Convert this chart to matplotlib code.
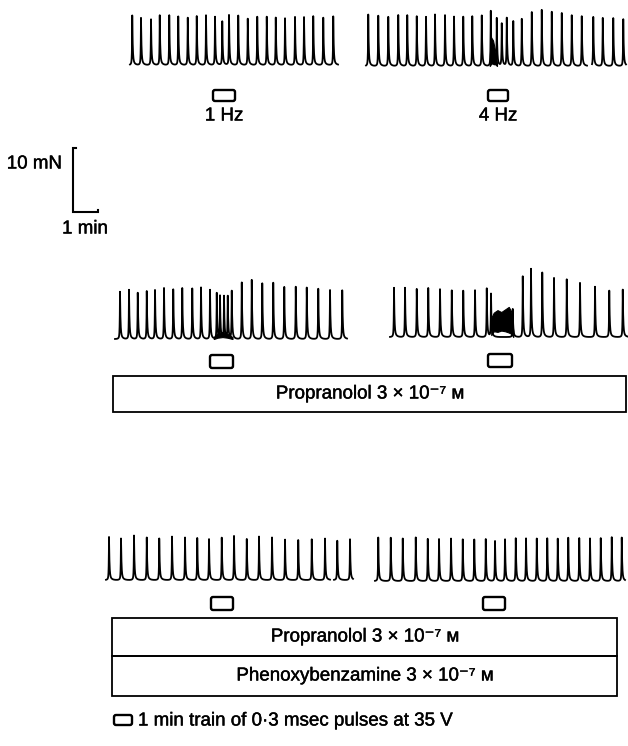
import numpy as np
import matplotlib.pyplot as plt
import matplotlib.patheffects as pe
from matplotlib.patches import Rectangle, FancyBboxPatch

W, H = 628, 746
PX_MIN = 25.0   # pixels per minute on the recording
PX_MN = 6.4     # pixels per mN

# beat times (min from start of each trace) and peak tension (mN)
ctrl_1hz_t = [0.09, 0.44, 0.84, 1.19, 1.57, 1.93, 2.31, 2.67, 3.04, 3.40, 3.69, 3.96,
              4.33, 4.71, 5.09, 5.47, 5.83, 6.20, 6.60, 6.96, 7.33, 7.73, 8.13]
ctrl_1hz_h = [7.8, 7.6, 7.3, 7.8, 7.8, 7.8, 7.6, 7.8, 7.8, 7.8, 7.0, 8.1,
              7.8, 7.3, 7.6, 7.6, 7.6, 7.6, 7.6, 7.8, 7.8, 7.6, 7.6]
ctrl_4hz_t = [0.09, 0.49, 0.89, 1.29, 1.65, 2.03, 2.40, 2.76, 3.16, 3.52, 3.89, 4.25,
              4.63, 4.99, 5.23, 5.43, 5.63, 5.89, 6.23, 6.63, 7.03, 7.43, 7.83, 8.23,
              8.63, 9.09, 9.47, 9.89, 10.29]
ctrl_4hz_h = [8.1, 8.1, 8.1, 8.1, 8.1, 7.8, 8.1, 8.1, 8.1, 8.1, 7.8, 8.1,
              8.1, 9.1, 7.6, 6.8, 7.8, 7.3, 7.6, 8.9, 8.9, 8.6, 8.6, 8.3,
              7.8, 8.1, 7.8, 7.6, 7.6]

prop_1hz_t = [0.20, 0.56, 0.91, 1.27, 1.60, 1.96, 2.33, 2.69, 3.09, 3.44, 3.80, 4.07,
              4.20, 4.36, 4.51, 4.67, 5.07, 5.47, 5.89, 6.33, 6.77, 7.23, 7.67, 8.13,
              8.60, 9.09]
prop_1hz_h = [7.7, 7.7, 7.5, 7.5, 8.0, 8.0, 8.0, 8.0, 8.2, 8.2, 8.0, 7.2,
              6.7, 6.9, 6.9, 7.5, 9.2, 9.3, 9.0, 8.8, 8.5, 8.3, 8.3, 8.1,
              8.0, 7.8]
prop_4hz_t = [0.16, 0.60, 1.07, 1.53, 2.00, 2.47, 2.93, 3.40, 3.87, 4.04, 4.91, 5.31,
              5.64, 6.09, 6.56, 7.07, 7.60, 8.20, 8.77, 9.31]
prop_4hz_h = [7.8, 7.8, 7.8, 7.8, 7.8, 7.6, 7.6, 7.6, 7.8, 6.8, 4.4, 9.6,
              10.7, 10.4, 9.4, 9.2, 8.6, 8.1, 7.6, 7.6]

pbz_1hz_t = [0.12, 0.60, 1.12, 1.63, 2.13, 2.64, 3.16, 3.65, 4.12, 4.63, 5.12, 5.63,
             6.12, 6.64, 7.16, 7.69, 8.23, 8.76, 9.25, 9.76]
pbz_1hz_h = [6.8, 6.8, 7.0, 6.8, 6.8, 6.8, 6.8, 6.8, 6.6, 6.9, 7.0, 6.7,
             6.8, 6.8, 6.6, 6.5, 6.5, 6.5, 6.4, 6.5]
pbz_4hz_t = [0.13, 0.63, 1.11, 1.63, 2.11, 2.56, 3.04, 3.51, 3.97, 4.43, 4.80, 5.20,
             5.63, 6.04, 6.47, 6.89, 7.31, 7.73, 8.17, 8.60, 9.03, 9.47, 9.87]
pbz_4hz_h = [6.8, 6.8, 6.7, 6.9, 6.7, 6.7, 6.8, 6.7, 6.7, 6.8, 6.5, 6.8,
             7.0, 7.0, 7.0, 7.0, 6.9, 7.0, 6.9, 6.8, 6.8, 6.9, 6.8]

# trace length (min) and 1 min stimulus train start / drawn length (min)
trace_len = [8.32, 10.4, 9.28, 9.52, 9.88, 10.0]
stim_start = [3.32, 4.88, 3.80, 3.92, 4.20, 4.32]
stim_len = [0.88, 0.80, 0.92, 0.96, 0.88, 0.88]

# fused contracture during trains: time, lower and upper edge (mN)
fused_ctrl_t = [4.95, 5.00, 5.08, 5.16, 5.24]
fused_ctrl_lo = [0.0, 0.3, 0.5, 0.3, 0.0]
fused_ctrl_hi = [1.5, 4.5, 4.0, 2.5, 0.5]
fused_prop_t = [4.05, 4.15, 4.30, 4.45, 4.60, 4.75, 4.85, 4.93]
fused_prop_lo = [0.3, 0.9, 0.8, 1.0, 0.9, 0.7, 0.5, 0.0]
fused_prop_hi = [3.0, 3.8, 4.2, 3.9, 4.3, 4.7, 4.0, 1.0]
fused_prop1_t = [3.95, 4.10, 4.30, 4.50, 4.70]
fused_prop1_lo = [0.0, 0.2, 0.3, 0.2, 0.0]
fused_prop1_hi = [0.3, 0.9, 1.1, 0.8, 0.3]

# gaps in the reproduced record (min)
gap_ctrl_4hz = (8.84, 9.04)
gap_pbz_1hz = (8.96, 9.12)

freq_labels = ["1 Hz", "4 Hz"]
drug_1 = "Propranolol 3 × 10⁻⁷ ᴍ"
drug_2 = "Phenoxybenzamine 3 × 10⁻⁷ ᴍ"
legend_text = "1 min train of 0·3 msec pulses at 35 V"

FONT = ['Liberation Sans', 'DejaVu Sans']
plt.rcParams['font.family'] = FONT
FS = 13.5
INK = [pe.withStroke(linewidth=0.3, foreground='black')]


def beat_trace(t, times, heights):
    y = np.zeros_like(t)
    for t0, h in zip(times, heights):
        d = t - t0
        up = 0.9 * np.exp(np.minimum(d, 0) / 0.010) + 0.1 * np.exp(np.minimum(d, 0) / 0.04)
        down = 0.85 * np.exp(-np.maximum(d, 0) / 0.018) + 0.15 * np.exp(-np.maximum(d, 0) / 0.07)
        y += h * np.where(d < 0, up, down)
    return y


fig = plt.figure(figsize=(W / 100, H / 100), dpi=100)
lay = fig.add_axes([0, 0, 1, 1])
lay.set_xlim(0, W)
lay.set_ylim(H, 0)
lay.axis('off')


def label(x, y, s, **kw):
    lay.text(x, y, s, va='center', fontsize=FS, path_effects=INK, **kw)


def trace_axes(x0, base, length):
    lo, hi = 1.2, 12.0
    bottom = base + lo * PX_MN
    ax = fig.add_axes([x0 / W, 1 - bottom / H, length * PX_MIN / W, (lo + hi) * PX_MN / H])
    ax.set_xlim(0, length)
    ax.set_ylim(-lo, hi)
    ax.axis('off')
    return ax


# panels: (x0 px, baseline px, times, heights, fused, gap, box offset px, box height px)
panels = [
    (130, 65, ctrl_1hz_t, ctrl_1hz_h, None, None, 25, 11),
    (366, 66, ctrl_4hz_t, ctrl_4hz_h, (fused_ctrl_t, fused_ctrl_lo, fused_ctrl_hi), gap_ctrl_4hz, 24, 11),
    (115, 339, prop_1hz_t, prop_1hz_h, (fused_prop1_t, fused_prop1_lo, fused_prop1_hi), None, 16, 13),
    (390, 337, prop_4hz_t, prop_4hz_h, (fused_prop_t, fused_prop_lo, fused_prop_hi), None, 17, 13),
    (106, 580, pbz_1hz_t, pbz_1hz_h, None, gap_pbz_1hz, 17, 13),
    (375, 581, pbz_4hz_t, pbz_4hz_h, None, None, 16, 13),
]

for i, (x0, base, tt, hh, fused, gap, boff, bh) in enumerate(panels):
    ax = trace_axes(x0, base, trace_len[i])
    t = np.linspace(0, trace_len[i], 6000)
    y = beat_trace(t, tt, hh)
    if gap is not None:
        y[(t > gap[0]) & (t < gap[1])] = np.nan
    if fused is not None:
        ax.fill_between(fused[0], fused[1], fused[2], color='black', lw=0.8)
    ax.plot(t, y, color='black', lw=1.3, clip_on=False)
    # stimulus train marker
    aspect = PX_MIN / PX_MN
    box = FancyBboxPatch((stim_start[i], -(boff + bh) / PX_MN), stim_len[i], bh / PX_MN,
                         boxstyle="round,pad=0,rounding_size=0.08", mutation_aspect=aspect,
                         fc='white', ec='black', lw=1.7, clip_on=False)
    ax.add_patch(box)
    if i < 2:
        xc = x0 + (stim_start[i] + stim_len[i] / 2) * PX_MIN
        label(xc, base + boff + bh + 15, freq_labels[i], ha='center')

# scale bars: 10 mN and 1 min
sb = fig.add_axes([73 / W, 1 - 212 / H, 1 * PX_MIN / W, 10 * PX_MN / H])
sb.set_xlim(0, 1)
sb.set_ylim(0, 10)
sb.axis('off')
sb.plot([0.12, 0, 0, 1, 1], [10, 10, 0, 0, 0.3], color='black', lw=1.5,
        clip_on=False, solid_joinstyle='miter')
label(62, 164, "10 mN", ha='right')
label(85, 229, "1 min", ha='center')

# drug bars
lay.add_patch(Rectangle((113, 376), 513, 36, fc='none', ec='black', lw=1.3))
label(370, 394, drug_1, ha='center')
lay.add_patch(Rectangle((112, 618), 505, 38, fc='none', ec='black', lw=1.3))
lay.add_patch(Rectangle((112, 656), 505, 40, fc='none', ec='black', lw=1.3))
label(365, 637, drug_1, ha='center')
label(365, 676, drug_2, ha='center')

# key
lay.add_patch(FancyBboxPatch((114, 715), 18, 10, boxstyle="round,pad=0,rounding_size=2",
                             fc='white', ec='black', lw=1.7))
label(138, 721, legend_text, ha='left')

fig.savefig("out.png", dpi=100)
